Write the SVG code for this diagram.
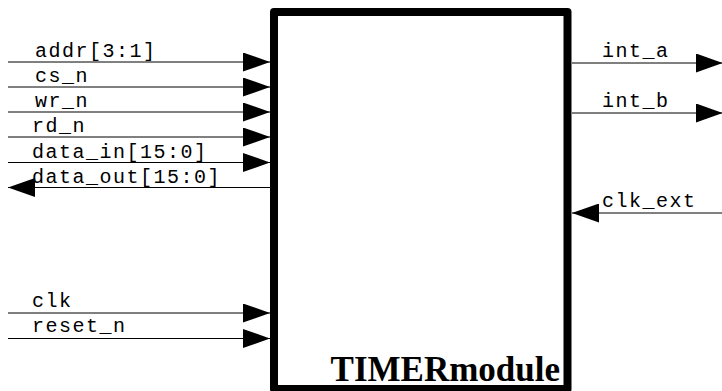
<svg xmlns="http://www.w3.org/2000/svg" width="722" height="391" viewBox="0 0 722 391">
<style>
.w{stroke:#000;stroke-width:1;fill:none}
.lbl{font-family:"Liberation Mono","DejaVu Sans Mono",monospace;font-size:20px;letter-spacing:1.5px;fill:#000}
.title{font-family:"Liberation Serif","DejaVu Serif",serif;font-size:35px;font-weight:bold;fill:#000}
</style>
<defs>
<marker id="ah" markerUnits="userSpaceOnUse" markerWidth="27" markerHeight="19" refX="27" refY="9.5" orient="auto" viewBox="0 0 27 19">
<path d="M0,0 L27,9.5 L0,19 z" fill="#000"/>
</marker>
</defs>
<rect width="722" height="391" fill="#fff"/>
<g id="timer_module">
<rect x="274" y="12" width="293.5" height="377" fill="#fff" stroke="#000" stroke-width="8" stroke-linejoin="round"/>
<text class="title" x="560" y="381" text-anchor="end">TIMERmodule</text>
</g>
<g id="connectors">
<g id="addr"><line class="w" x1="8" y1="62" x2="270" y2="62" marker-end="url(#ah)"/><text class="lbl" x="35" y="57">addr[3:1]</text></g>
<g id="cs_n"><line class="w" x1="8" y1="87" x2="270" y2="87" marker-end="url(#ah)"/><text class="lbl" x="35" y="82">cs_n</text></g>
<g id="wr_n"><line class="w" x1="8" y1="112" x2="270" y2="112" marker-end="url(#ah)"/><text class="lbl" x="35" y="107">wr_n</text></g>
<g id="rd_n"><line class="w" x1="8" y1="137" x2="270" y2="137" marker-end="url(#ah)"/><text class="lbl" x="32" y="132">rd_n</text></g>
<g id="data_in"><line class="w" x1="8" y1="162.5" x2="270" y2="162.5" marker-end="url(#ah)"/><text class="lbl" x="32" y="157.5">data_in[15:0]</text></g>
<g id="data_out"><line class="w" x1="270" y1="187.5" x2="8" y2="187.5" marker-end="url(#ah)"/><text class="lbl" x="32" y="182.5">data_out[15:0]</text></g>
<g id="clk"><line class="w" x1="8" y1="313" x2="270" y2="313" marker-end="url(#ah)"/><text class="lbl" x="32" y="307">clk</text></g>
<g id="reset_n"><line class="w" x1="8" y1="338.5" x2="270" y2="338.5" marker-end="url(#ah)"/><text class="lbl" x="32" y="332">reset_n</text></g>
<g id="int_a"><line class="w" x1="572" y1="63" x2="723" y2="63" marker-end="url(#ah)"/><text class="lbl" x="602" y="57">int_a</text></g>
<g id="int_b"><line class="w" x1="572" y1="113" x2="723" y2="113" marker-end="url(#ah)"/><text class="lbl" x="602" y="107">int_b</text></g>
<g id="clk_ext"><line class="w" x1="722" y1="213" x2="572" y2="213" marker-end="url(#ah)"/><text class="lbl" x="602" y="207">clk_ext</text></g>
</g>
</svg>
